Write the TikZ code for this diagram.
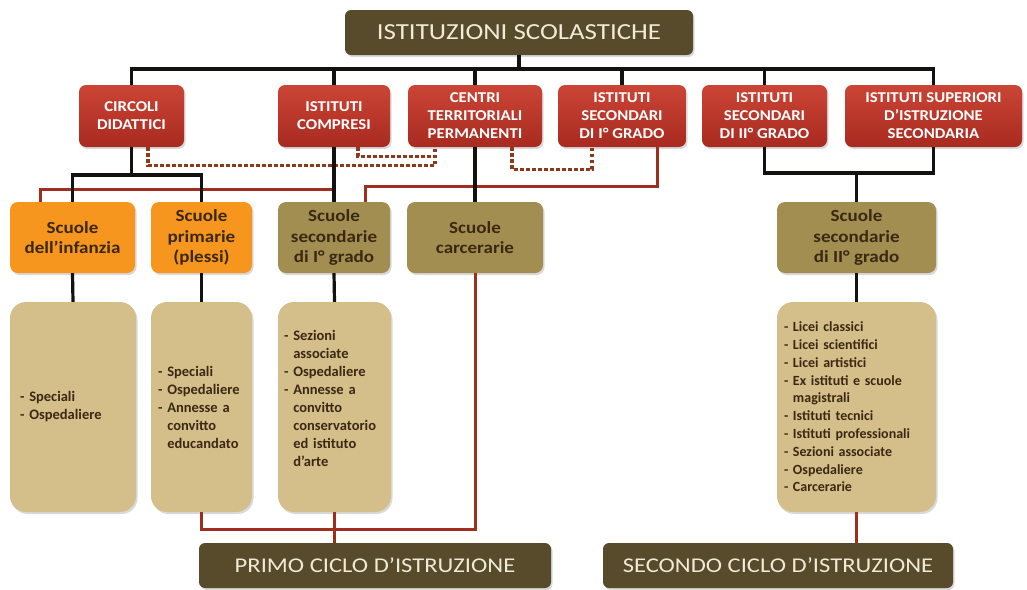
\documentclass[tikz,border=0pt]{standalone}
\usepackage{fontspec}
\setmainfont{Carlito}
\newfontfamily\wideA[FakeStretch=1.17]{Carlito}
\newfontfamily\wideB[FakeStretch=1.12]{Carlito}
\usetikzlibrary{shadows}
\definecolor{darkolive}{HTML}{574B2B}
\definecolor{cream}{HTML}{F0EBD6}
\definecolor{redtop}{HTML}{CB4535}
\definecolor{redbot}{HTML}{A82A20}
\definecolor{orangebox}{HTML}{F6961F}
\definecolor{olivebox}{HTML}{A28E50}
\definecolor{beigebox}{HTML}{D4BF8A}
\definecolor{boxtext}{HTML}{3A2812}
\definecolor{redline}{HTML}{9E2E1E}
\definecolor{dotline}{HTML}{8C3A1C}
\definecolor{blkline}{HTML}{141210}
\tikzset{
  shd/.style={drop shadow={shadow xshift=1.5pt,shadow yshift=-2pt,opacity=0.25,fill=black!60}},
  topbox/.style={shd,fill=darkolive,rounded corners=6pt,text=cream,inner sep=0pt,
    font=\wideA\fontsize{23}{26}\selectfont},
  redbox/.style={shd,top color=redtop,bottom color=redbot,rounded corners=7pt,text=white,
    align=center,inner sep=0pt,font=\wideB\bfseries\fontsize{15}{18}\selectfont},
  orbox/.style={shd,fill=orangebox,rounded corners=8pt,text=boxtext,align=center,inner sep=0pt,
    font=\wideB\bfseries\fontsize{17}{20.5}\selectfont},
  olbox/.style={shd,fill=olivebox,rounded corners=8pt,text=boxtext,align=center,inner sep=0pt,
    font=\wideB\bfseries\fontsize{17}{20.5}\selectfont},
  bgbox/.style={shd,fill=beigebox,rounded corners=16pt,text=boxtext,align=left,inner ysep=0pt,
    inner xsep=7pt,font=\bfseries\fontsize{14.5}{18}\selectfont},
  blk/.style={draw=blkline,line width=3.2pt},
  redl/.style={draw=redline,line width=3pt},
  dotl/.style={draw=dotline,line width=3.4pt,dash pattern=on 3.5pt off 2.5pt}
}
\begin{document}
\begin{tikzpicture}[x=1pt,y=-1pt]
\useasboundingbox (0,0) rectangle (1027,589);
% top
\node[topbox,minimum width=348,minimum height=45] (top) at (519,32.5) {ISTITUZIONI SCOLASTICHE};
% red row
\node[redbox,minimum width=105,minimum height=62] (cd) at (131.5,116) {CIRCOLI\\DIDATTICI};
\node[redbox,minimum width=112,minimum height=62] (ic) at (334,116) {ISTITUTI\\COMPRESI};
\node[redbox,minimum width=134,minimum height=62] (ctp) at (475,116) {CENTRI\\TERRITORIALI\\PERMANENTI};
\node[redbox,minimum width=128,minimum height=62] (is1) at (622,116) {ISTITUTI\\SECONDARI\\DI I° GRADO};
\node[redbox,minimum width=125,minimum height=62] (is2) at (764.5,116) {ISTITUTI\\SECONDARI\\DI II° GRADO};
\node[redbox,minimum width=177,minimum height=62] (isup) at (933.5,116) {ISTITUTI SUPERIORI\\D’ISTRUZIONE\\SECONDARIA};
% second row
\node[orbox,minimum width=125,minimum height=71] (inf) at (72.5,237.5) {Scuole\\dell’infanzia};
\node[orbox,minimum width=101,minimum height=71] (pri) at (201.5,237.5) {Scuole\\primarie\\(plessi)};
\node[olbox,minimum width=112,minimum height=71] (sec1) at (334,237.5) {Scuole\\secondarie\\di I° grado};
\node[olbox,minimum width=136,minimum height=71] (car) at (475,237.5) {Scuole\\carcerarie};
\node[olbox,minimum width=159,minimum height=71] (sec2) at (856.5,237.5) {Scuole\\secondarie\\di II° grado};
% third row
\node[bgbox,inner xsep=10pt,text width=106,minimum height=210] (b1) at (73,407)
  {-~Speciali\\-~Ospedaliere};
\node[bgbox,text width=87,minimum height=210] (b2) at (201.5,407)
  {-~Speciali\\-~Ospedaliere\\-~Annesse a\\\phantom{-~}convitto\\\phantom{-~}educandato};
\node[bgbox,inner xsep=6pt,text width=101,minimum height=210] (b3) at (334.5,407)
  {-~Sezioni\\\phantom{-~}associate\\-~Ospedaliere\\-~Annesse a\\\phantom{-~}convitto\\\phantom{-~}conservatorio\\\phantom{-~}ed istituto\\\phantom{-~}d’arte\\\mbox{}};
\node[bgbox,text width=145,minimum height=210,font=\bfseries\fontsize{14}{17.8}\selectfont] (b4) at (856.5,407)
  {-~Licei classici\\-~Licei scientifici\\-~Licei artistici\\-~Ex istituti e scuole\\\phantom{-~}magistrali\\-~Istituti tecnici\\-~Istituti professionali\\-~Sezioni associate\\-~Ospedaliere\\-~Carcerarie};
% bottom
\node[topbox,minimum width=352,minimum height=45,font=\wideA\fontsize{21}{24}\selectfont] (primo) at (375,565.5) {PRIMO CICLO D’ISTRUZIONE};
\node[topbox,minimum width=350,minimum height=45,font=\wideA\fontsize{21}{24}\selectfont] (secondo) at (778,565.5) {SECONDO CICLO D’ISTRUZIONE};
% junction coordinates
\coordinate (bus) at (519,69);
\coordinate (cdj) at (131.5,175);
\coordinate (j2) at (856.5,173);
% red connectors
\draw[redl] ([xshift=-32.5pt]inf.north) -- ++(0,-12) -| (sec1.north);
\draw[redl] ([xshift=35pt]is1.south) -- ++(0,39) -| ([xshift=31pt]sec1.north);
\draw[redl] (b2.south) -- ++(0,17) -| (car.south);
\draw[redl] (b3.south) -- (b3.south |- primo.north);
\draw[redl] (b4.south) -- (b4.south |- secondo.north);
% dotted connectors
\draw[dotl] ([xshift=16.5pt]cd.south) -- ++(0,18) -| ([xshift=-40pt]ctp.south);
\draw[dotl] ([xshift=24pt]ic.south) -- ++(0,9) -| ([xshift=-40pt]ctp.south);
\draw[dotl] ([xshift=37pt]ctp.south) -- ++(0,22) -| ([xshift=-30pt]is1.south);
% black connectors
\draw[blk] (top.south) -- (bus);
\foreach \n in {cd,ic,ctp,is1,is2,isup}{\draw[blk] (\n.north) |- (bus);}
\draw[blk] (cd.south) -- (cdj);
\draw[blk] (inf.north) |- (cdj);
\draw[blk] (pri.north) |- (cdj);
\draw[blk] (ic.south) -- (sec1.north);
\draw[blk] (ctp.south) -- (car.north);
\draw[blk] (is2.south) |- (j2);
\draw[blk] (isup.south) |- (j2);
\draw[blk] (j2) -- (sec2.north);
\draw[blk] (inf.south) -- (b1.north);
\draw[blk] (pri.south) -- (b2.north);
\draw[blk] (sec1.south) -- (b3.north);
\draw[blk] (sec2.south) -- (b4.north);
\end{tikzpicture}
\end{document}
